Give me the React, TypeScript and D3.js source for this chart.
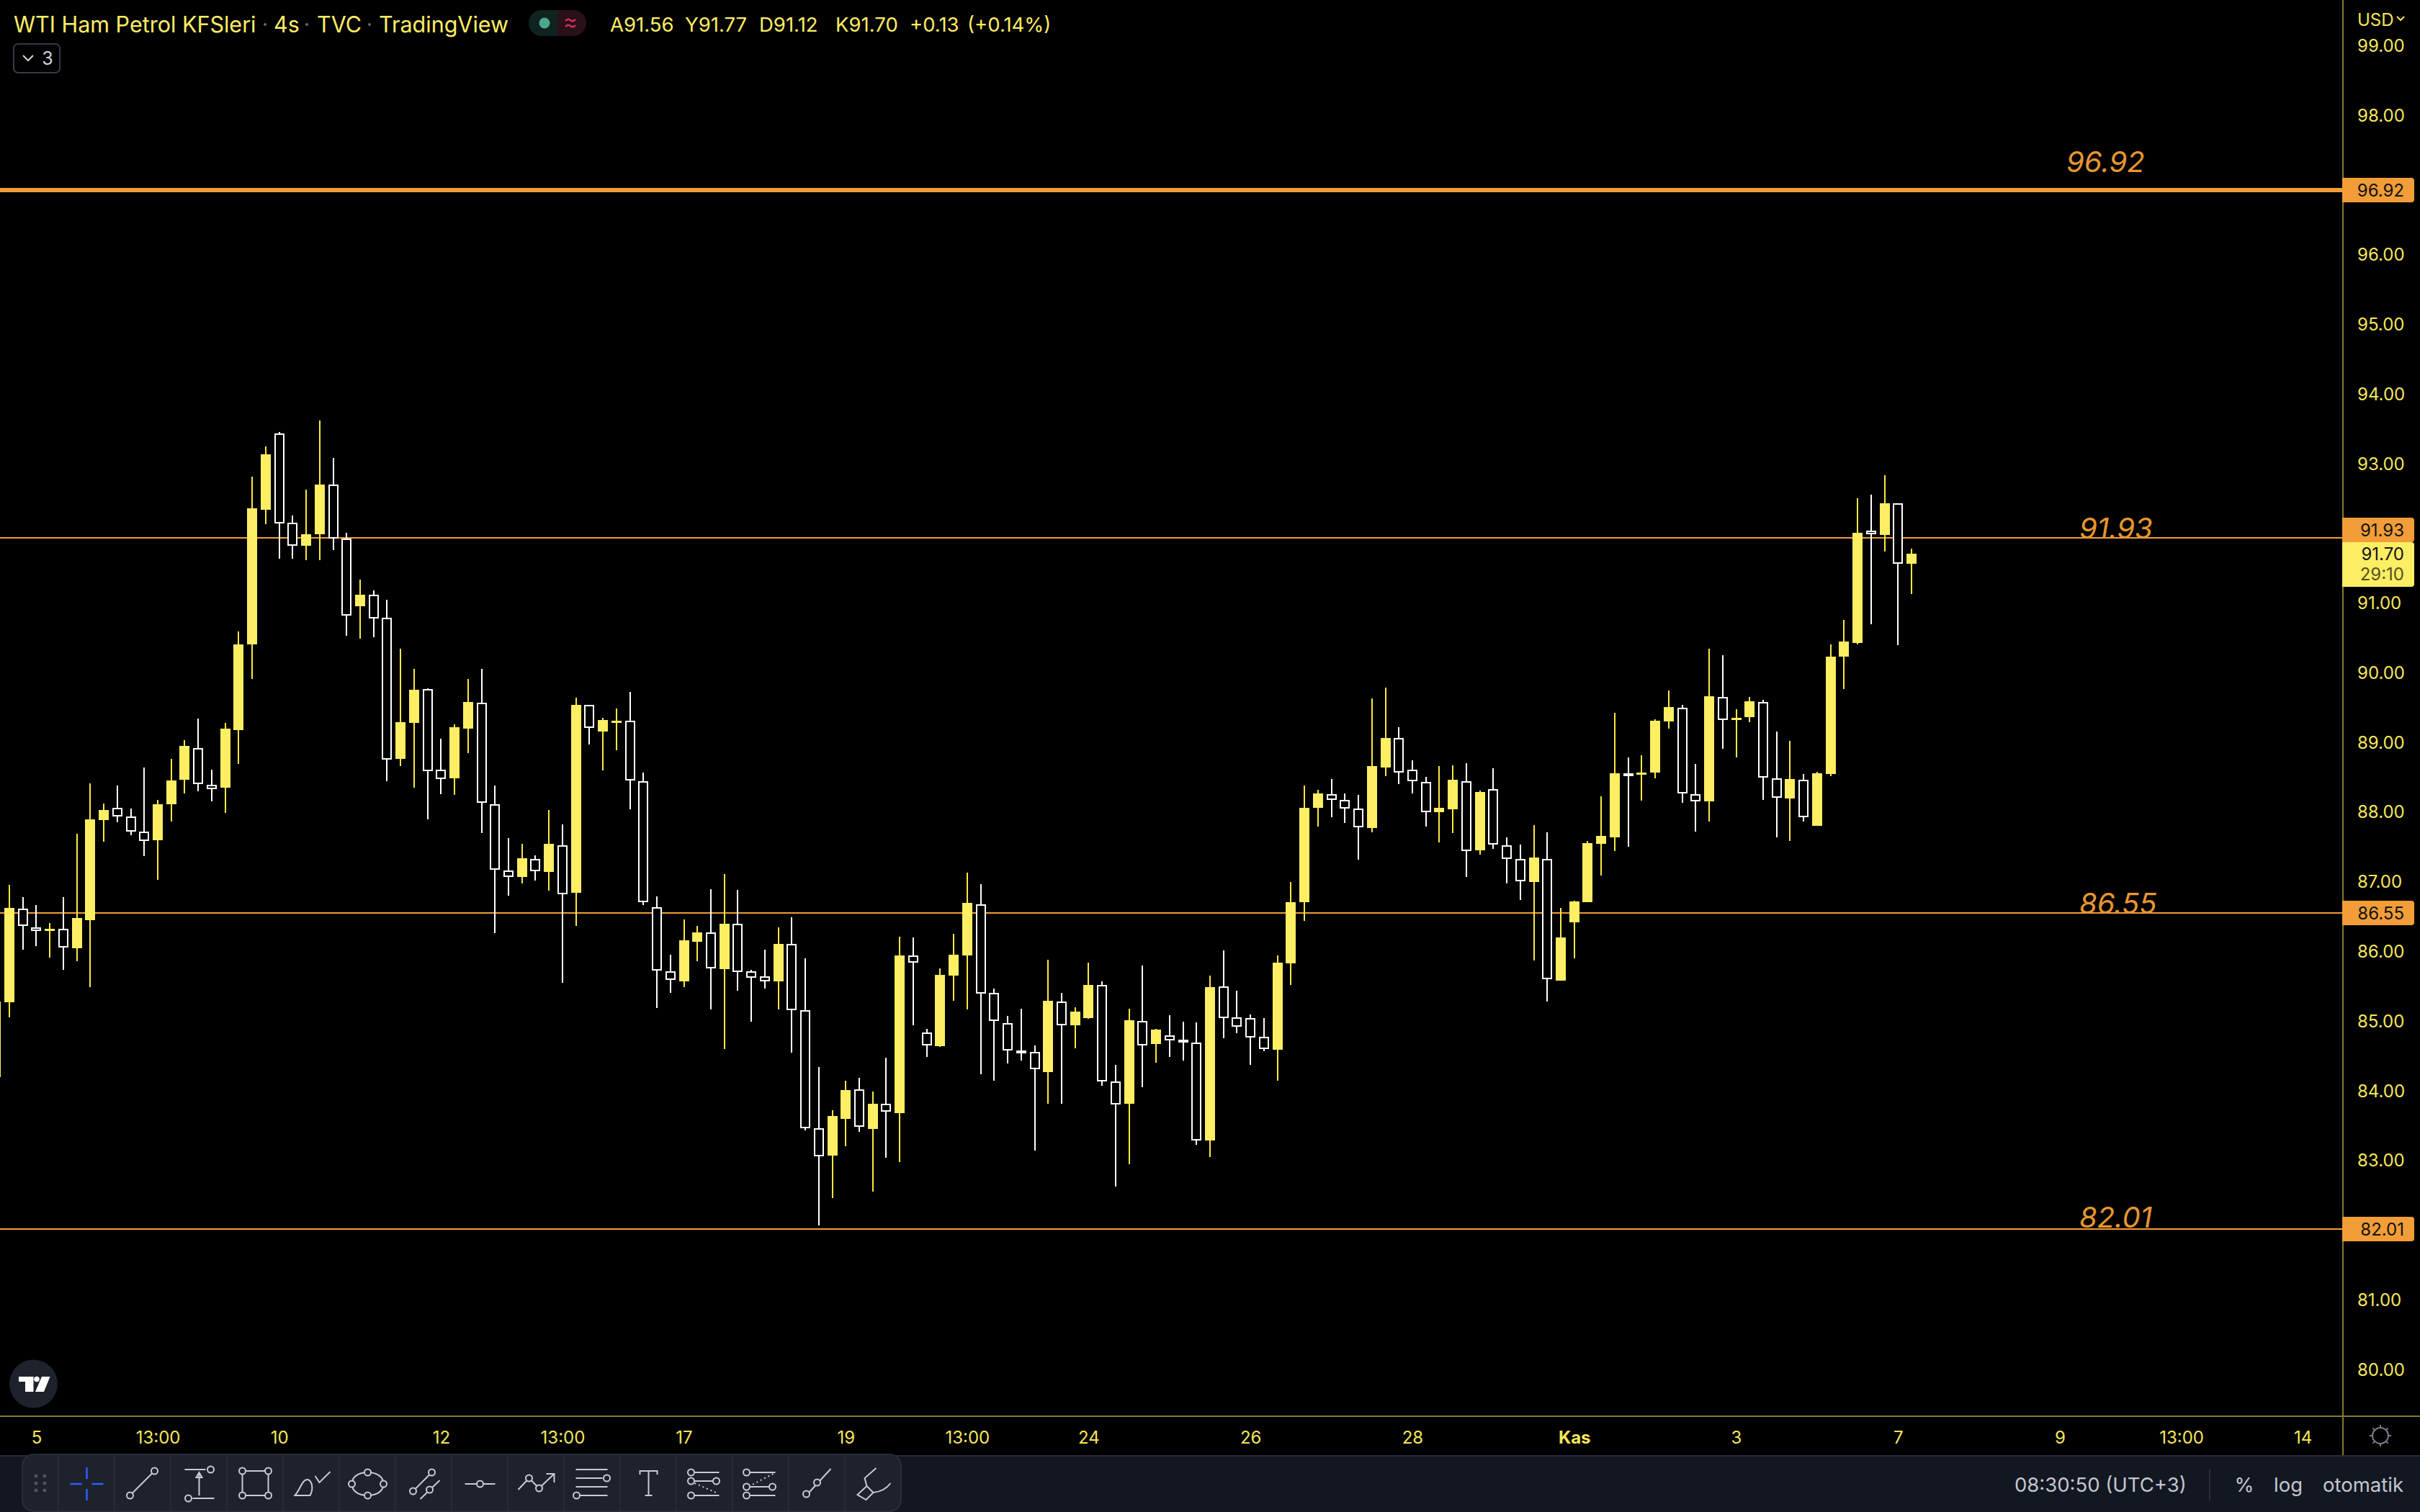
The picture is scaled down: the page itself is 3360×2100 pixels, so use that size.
import React, { useEffect, useRef } from 'react';
import * as d3 from 'd3';

const WIDTH = 3360;
const HEIGHT = 2100;
const AXIS_X = 3253;
const AXIS_Y = 1967;

// candles, oldest first (the first one is cut by the left edge)
const opens = [
  84.19, 85.27, 86.61, 86.34, 86.30, 86.32, 86.04, 86.44, 87.88, 88.05,
  87.93, 87.71, 87.59, 88.11, 88.45, 88.91, 88.39, 88.34, 89.17, 90.40,
  92.33, 93.43, 92.15, 91.81, 91.98, 92.69, 91.92, 90.94, 91.11, 90.78,
  88.75, 89.27, 89.76, 88.60, 88.48, 89.19, 89.56, 88.11, 87.16, 87.06,
  87.32, 87.14, 87.52, 86.83, 89.53, 89.15, 89.29, 89.31, 88.44, 86.63,
  85.71, 85.56, 86.14, 86.27, 85.74, 86.39, 85.71, 85.64, 85.56, 86.10,
  85.15, 83.46, 83.06, 83.59, 84.01, 83.45, 83.81, 83.68, 85.94, 84.83,
  84.64, 85.65, 85.94, 86.67, 85.40, 84.97, 84.57, 84.55, 84.27, 85.28,
  84.93, 85.03, 85.51, 84.13, 83.81, 85.00, 84.66, 84.79, 84.73, 84.69,
  83.28, 85.49, 85.05, 85.04, 84.77, 84.58, 85.82, 86.70, 88.05, 88.25,
  88.17, 88.04, 87.76, 88.64, 89.06, 88.60, 88.43, 87.99, 88.04, 88.44,
  87.44, 88.32, 87.52, 87.32, 86.99, 87.32, 85.57, 86.41, 86.70, 87.54,
  87.63, 88.55, 88.53, 88.56, 89.29, 89.49, 88.25, 88.15, 89.65, 89.33,
  89.35, 89.57, 88.48, 88.19, 88.46, 87.80, 88.54, 90.22, 90.42, 92.03,
  91.98, 92.43, 91.56,
];
const highs = [
  85.27, 86.95, 86.77, 86.66, 86.40, 86.77, 87.68, 88.41, 88.12, 88.38,
  88.04, 88.63, 88.17, 88.76, 89.03, 89.34, 88.60, 89.27, 90.59, 92.81,
  93.24, 93.45, 92.25, 92.62, 93.61, 93.08, 92.00, 91.33, 91.17, 91.04,
  90.34, 90.05, 89.77, 89.05, 89.25, 89.90, 90.05, 88.38, 87.62, 87.54,
  87.37, 88.02, 87.82, 89.64, 89.53, 89.35, 89.48, 89.72, 88.56, 86.78,
  85.95, 86.45, 86.36, 86.89, 87.10, 86.88, 85.73, 86.02, 86.34, 86.48,
  85.89, 84.33, 83.72, 84.14, 84.18, 83.98, 84.47, 86.20, 86.19, 84.88,
  85.75, 86.25, 87.12, 86.96, 85.46, 85.07, 85.17, 84.64, 85.87, 85.40,
  85.19, 85.83, 85.56, 84.37, 85.17, 85.79, 84.88, 85.08, 84.99, 84.98,
  85.65, 86.01, 85.43, 85.09, 85.04, 85.94, 86.99, 88.37, 88.31, 88.47,
  88.26, 88.24, 89.63, 89.78, 89.21, 88.74, 88.50, 88.65, 88.66, 88.70,
  88.30, 88.62, 87.63, 87.53, 87.81, 87.70, 86.62, 86.72, 87.58, 88.22,
  89.42, 88.78, 88.81, 89.33, 89.74, 89.53, 88.68, 90.34, 90.24, 89.47,
  89.65, 89.60, 89.15, 89.02, 88.54, 88.57, 90.40, 90.75, 92.50, 92.55,
  92.83, 92.43, 91.77,
];
const lows = [
  84.19, 85.05, 86.02, 86.07, 85.91, 85.73, 85.85, 85.48, 87.57, 87.85,
  87.66, 87.36, 87.02, 87.86, 88.26, 88.29, 88.15, 87.98, 88.69, 89.90,
  92.13, 91.63, 91.63, 91.61, 91.61, 91.75, 90.52, 90.48, 90.50, 88.44,
  88.65, 88.34, 87.89, 88.25, 88.24, 88.84, 87.69, 86.26, 86.79, 86.97,
  87.01, 86.87, 85.54, 86.36, 88.96, 88.59, 88.88, 88.03, 86.66, 85.18,
  85.40, 85.48, 85.85, 85.16, 84.59, 85.43, 84.99, 85.46, 85.16, 84.54,
  83.43, 82.06, 82.45, 83.20, 83.41, 82.55, 83.03, 82.97, 84.93, 84.48,
  84.62, 85.29, 85.16, 84.23, 84.14, 84.39, 84.43, 83.14, 83.81, 83.81,
  84.60, 85.03, 84.07, 82.62, 82.94, 84.05, 84.40, 84.48, 84.43, 83.22,
  83.04, 84.75, 84.82, 84.37, 84.56, 84.14, 85.51, 86.43, 87.79, 87.92,
  87.84, 87.31, 87.70, 88.51, 88.40, 88.26, 87.79, 87.56, 87.69, 87.06,
  87.38, 87.47, 86.97, 86.73, 85.86, 85.28, 85.57, 85.89, 86.70, 87.08,
  87.43, 87.50, 88.16, 88.48, 89.19, 88.13, 87.71, 87.86, 88.90, 88.78,
  89.28, 88.17, 87.63, 87.58, 87.86, 87.80, 88.51, 89.76, 90.40, 90.69,
  91.73, 90.39, 91.12,
];
const closes = [
  85.27, 86.62, 86.36, 86.29, 86.32, 86.05, 86.47, 87.89, 88.02, 87.93,
  87.71, 87.58, 88.11, 88.45, 88.94, 88.39, 88.33, 89.19, 90.40, 92.35,
  93.13, 92.14, 91.82, 91.98, 92.69, 91.91, 90.81, 91.11, 90.77, 88.74,
  89.28, 89.75, 88.58, 88.47, 89.21, 89.57, 88.12, 87.17, 87.07, 87.33,
  87.14, 87.54, 86.82, 89.53, 89.20, 89.32, 89.31, 88.45, 86.70, 85.72,
  85.59, 86.15, 86.27, 85.75, 86.39, 85.70, 85.62, 85.57, 86.10, 85.15,
  83.46, 83.06, 83.63, 84.00, 83.47, 83.81, 83.70, 85.94, 85.84, 84.64,
  85.66, 85.95, 86.69, 85.39, 85.00, 84.58, 84.55, 84.30, 85.29, 84.94,
  85.13, 85.51, 84.13, 83.80, 85.01, 84.65, 84.87, 84.72, 84.69, 83.28,
  85.48, 85.04, 84.92, 84.76, 84.59, 85.83, 86.70, 88.05, 88.26, 88.17,
  88.05, 87.77, 88.65, 89.06, 88.56, 88.43, 88.00, 88.05, 88.46, 87.44,
  88.28, 87.52, 87.32, 87.00, 87.34, 85.59, 86.19, 86.71, 87.55, 87.65,
  88.55, 88.53, 88.56, 89.30, 89.50, 88.26, 88.15, 89.66, 89.32, 89.35,
  89.58, 88.48, 88.20, 88.47, 87.92, 88.55, 90.22, 90.44, 92.00, 91.98,
  92.43, 91.56, 91.70,
];

// 97, 92 and 82 sit under the price tags, the reference does not show them
const priceTicks = [80, 81, 83, 84, 85, 86, 87, 88, 89, 90, 91, 93, 94, 95, 96, 98, 99];
const levels = [96.92, 91.93, 86.55, 82.01];
const lastPrice = 91.70;

// time axis: bar number -> label
const timeTickBars = [3, 12, 21, 33, 42, 51, 63, 72, 81, 93, 105, 117, 129, 141, 153, 162, 171];
const timeTickLabels = ['5', '13:00', '10', '12', '13:00', '17', '19', '13:00', '24', '26', '28', 'Kas', '3', '7', '9', '13:00', '14'];

const titleParts: [string, number][] = [['WTI Ham Petrol KFSleri', 19], ['4s', 380], ['TVC', 440], ['TradingView', 526]];
const ohlcParts: [string, number][] = [['A91.56', 847], ['Y91.77', 951], ['D91.12', 1054], ['K91.70', 1160], ['+0.13', 1263], ['(+0.14%)', 1343]];

// drawing tool icons, local coordinates around each toolbar cell
const toolIcons: { d: string; dots?: [number, number][]; dash?: string }[] = [
  { d: '' },
  { d: 'M-18 17L16 -17', dots: [[16, -17], [-18, 17]] },
  { d: 'M-20 -19H9M-9 21H21M0 17V-13M-4 -8L0 -15L4 -8Z', dots: [[16, -19], [-15, 21]] },
  { d: 'M-18 -17H18V17H-18Z', dots: [[-18, -17], [18, -17], [-18, 17], [18, 17]] },
  { d: 'M-23 17H-2C3 8 1 -3 -5 -5C-13 -6 -15 8 -23 17ZM5 -10L11 -1L26 -16' },
  { d: 'M0 -15C14 -15 22 -8 22 1C22 10 14 17 0 17C-14 17 -22 10 -22 1C-22 -8 -14 -15 0 -15Z', dots: [[0, -15], [22, 1], [0, 17], [-22, 1]] },
  { d: 'M-15 11L11 -15M-5 22L22 -4', dots: [[11, -15], [-15, 11], [8, 9]] },
  { d: 'M-21 1H21', dots: [[0, 1]] },
  { d: 'M-25 9L-10 -7L4 7L25 -13M14 -13H25V-1', dots: [[-10, -7], [4, 7]] },
  { d: 'M-23 -19H21M-23 -7H14M-23 5H21M-18 17H21', dots: [[20, -7], [-22, 17]] },
  { d: 'M-12 -12V-17H12V-12M0 -17V17M-5 17H5' },
  { d: 'M-18 -15H20M-18 -3H16M-18 17H20', dots: [[-19, -15], [-19, -3], [16, -3], [-19, 17]] },
  { d: 'M-19 -15H20M-19 5H16M-19 17H20', dots: [[-20, -15], [-20, 5], [16, 5], [-20, 17]] },
  { d: 'M19 -20L-15 17', dots: [[0, -1], [-15, 15]] },
  { d: 'M4 -21L-12 -7L-9 4L-22 16L-10 23L0 13L-9 4M0 13C10 12 18 8 24 0' },
];
// dotted diagonals of the two fib tools
const toolDots: [number, string][] = [[11, 'M-14 0L18 14'], [12, 'M17 -13L-12 2']];

const YELLOW = '#fdee63';
const WICK = '#fbe93e';
const AXIS_TEXT = '#f5e75a';
const ORANGE = '#f29d38';
const BORDER = '#857a32';
const FONT = 'Inter, Roboto, sans-serif';

const App: React.FC = () => {
  const svgRef = useRef<SVGSVGElement>(null);

  useEffect(() => {
    if (!svgRef.current) return;
    document.body.style.margin = '0';
    document.body.style.background = '#000';

    d3.select(svgRef.current).selectAll('*').remove();
    const svg = d3.select(svgRef.current);

    const x = d3.scaleLinear().domain([1, opens.length - 1]).range([13, 2654]);
    const y = d3.scaleLinear().domain([96.92, 82.01]).range([264, 1707]);

    svg.append('rect').attr('width', WIDTH).attr('height', HEIGHT).attr('fill', '#000');

    // level lines sit under the candles
    svg.selectAll('.level')
      .data(levels)
      .enter()
      .append('rect')
      .attr('class', 'level')
      .attr('x', 0)
      .attr('width', AXIS_X)
      .attr('y', d => Math.round(y(d)) - (d === 96.92 ? 3 : 1))
      .attr('height', d => (d === 96.92 ? 6 : 2))
      .attr('fill', ORANGE);

    // candles
    const bars = d3.range(opens.length);
    const candles = svg.append('g').attr('shape-rendering', 'crispEdges');
    candles.selectAll('.wick')
      .data(bars)
      .enter()
      .append('rect')
      .attr('class', 'wick')
      .attr('x', i => Math.round(x(i)) - 1)
      .attr('width', 2)
      .attr('y', i => y(highs[i]))
      .attr('height', i => y(lows[i]) - y(highs[i]))
      .attr('fill', i => (closes[i] >= opens[i] ? WICK : '#fff'));

    candles.selectAll('.body')
      .data(bars)
      .enter()
      .append('rect')
      .attr('class', 'body')
      .attr('x', i => Math.round(x(i)) - (closes[i] >= opens[i] ? 7 : 6))
      .attr('width', i => (closes[i] >= opens[i] ? 14 : 12))
      .attr('y', i => Math.round(y(Math.max(opens[i], closes[i]))) + (closes[i] >= opens[i] ? 0 : 1))
      .attr('height', i => Math.max(closes[i] >= opens[i] ? 3 : 2, Math.round(Math.abs(y(opens[i]) - y(closes[i]))) - (closes[i] >= opens[i] ? 0 : 2)))
      .attr('fill', i => (closes[i] >= opens[i] ? YELLOW : '#000'))
      .attr('stroke', i => (closes[i] >= opens[i] ? 'none' : '#fff'))
      .attr('stroke-width', 2);

    // italic labels over the levels
    const levelLabelX = [2869, 2887, 2887, 2887];
    const levelLabelY = [228, 737, 1258, 1694];
    svg.selectAll('.level-label')
      .data(levels)
      .enter()
      .append('text')
      .attr('class', 'level-label')
      .attr('x', (_d, i) => levelLabelX[i])
      .attr('y', (_d, i) => levelLabelY[i])
      .attr('dominant-baseline', 'middle')
      .style('font-family', FONT)
      .style('font-size', '40px')
      .style('font-style', 'italic')
      .style('fill', '#e8962f')
      .text(d => d3.format('.2f')(d));

    // price axis
    const yAxis = d3.axisRight(y)
      .tickValues(priceTicks)
      .tickFormat(d => d3.format('.2f')(d as number))
      .tickSize(0)
      .tickPadding(20);
    const yG = svg.append('g').attr('transform', `translate(${AXIS_X},1)`).call(yAxis);
    yG.select('.domain').remove();
    yG.selectAll('text')
      .style('font-family', FONT)
      .style('font-size', '24px')
      .style('fill', AXIS_TEXT);

    svg.append('rect').attr('x', AXIS_X - 1).attr('y', 0).attr('width', 2).attr('height', 2022).attr('fill', BORDER);
    svg.append('rect').attr('x', 0).attr('y', AXIS_Y - 1).attr('width', WIDTH).attr('height', 2).attr('fill', BORDER);

    // price tags
    const tagTops = [247, 719, Math.round(y(86.55)) - 17, Math.round(y(82.01)) - 17];
    const tagPath = (top: number, h: number) =>
      `M${AXIS_X - 1} ${top}H3348a4 4 0 0 1 4 4V${top + h - 4}a4 4 0 0 1 -4 4H${AXIS_X - 1}Z`;
    levels.forEach((lv, i) => {
      svg.append('path').attr('d', tagPath(tagTops[i], 34)).attr('fill', ORANGE);
      svg.append('text')
        .attr('x', 3338).attr('y', tagTops[i] + 17)
        .attr('text-anchor', 'end').attr('dominant-baseline', 'central')
        .style('font-family', FONT).style('font-size', '24px').style('fill', '#131313')
        .text(d3.format('.2f')(lv));
    });
    svg.append('path').attr('d', tagPath(753, 62)).attr('fill', YELLOW);
    svg.append('text')
      .attr('x', 3338).attr('y', 769)
      .attr('text-anchor', 'end').attr('dominant-baseline', 'central')
      .style('font-family', FONT).style('font-size', '24px').style('fill', '#131313')
      .text(d3.format('.2f')(lastPrice));
    svg.append('text')
      .attr('x', 3338).attr('y', 797)
      .attr('text-anchor', 'end').attr('dominant-baseline', 'central')
      .style('font-family', FONT).style('font-size', '24px').style('fill', '#55501f')
      .text('29:10');

    // currency
    svg.append('text')
      .attr('x', 3273).attr('y', 27).attr('dominant-baseline', 'central')
      .style('font-family', FONT).style('font-size', '24px').style('fill', AXIS_TEXT)
      .text('USD');
    svg.append('path').attr('d', 'M3328 23L3333 28L3338 23').attr('fill', 'none').attr('stroke', AXIS_TEXT).attr('stroke-width', 2);

    // time axis
    const xAxis = d3.axisBottom(x)
      .tickValues(timeTickBars)
      .tickFormat((_d, i) => timeTickLabels[i])
      .tickSize(0)
      .tickPadding(0);
    const xG = svg.append('g').attr('transform', `translate(0,${AXIS_Y})`).call(xAxis);
    xG.select('.domain').remove();
    xG.selectAll('text')
      .attr('dy', 0)
      .attr('y', 29)
      .attr('dominant-baseline', 'central')
      .style('font-family', FONT)
      .style('font-size', '24px')
      .style('font-weight', (_d, i) => (timeTickLabels[i] === 'Kas' ? '700' : '400'))
      .style('fill', AXIS_TEXT);

    // settings gear
    const gear = svg.append('g').attr('transform', 'translate(3305,1994)').attr('fill', 'none').attr('stroke', '#787b86').attr('stroke-width', 2);
    gear.append('circle').attr('r', 11);
    d3.range(8).forEach(k => {
      const a = (k * Math.PI) / 4;
      gear.append('line')
        .attr('x1', 11 * Math.cos(a)).attr('y1', 11 * Math.sin(a))
        .attr('x2', 15 * Math.cos(a)).attr('y2', 15 * Math.sin(a));
    });

    // header
    const header = svg.append('g').style('font-family', FONT).style('fill', YELLOW);
    titleParts.forEach(([t, tx]) => {
      header.append('text').attr('x', tx).attr('y', 33).attr('dominant-baseline', 'central').style('font-size', '30.5px').text(t);
    });
    [368, 426, 513].forEach(dx => {
      svg.append('circle').attr('cx', dx).attr('cy', 34).attr('r', 2).attr('fill', '#6a6a5a');
    });
    ohlcParts.forEach(([t, tx]) => {
      header.append('text').attr('x', tx).attr('y', 34).attr('dominant-baseline', 'central').style('font-size', '27.5px').text(t);
    });

    // market status pill
    svg.append('path').attr('d', 'M774 14H752a18 18 0 0 0 0 36H774Z').attr('fill', '#0f2320');
    svg.append('path').attr('d', 'M774 14H796a18 18 0 0 1 0 36H774Z').attr('fill', '#2a1018');
    svg.append('circle').attr('cx', 756).attr('cy', 32).attr('r', 7.5).attr('fill', '#4aa88d');
    svg.append('path')
      .attr('d', 'M785 29q3.500 -4 7 -1t7 -1M785 37q3.500 -4 7 -1t7 -1')
      .attr('fill', 'none').attr('stroke', '#d9305f').attr('stroke-width', 2.5);

    // collapsed indicators button
    svg.append('rect').attr('x', 19).attr('y', 61).attr('width', 64).attr('height', 40).attr('rx', 6)
      .attr('fill', 'none').attr('stroke', '#363a45').attr('stroke-width', 2);
    svg.append('path').attr('d', 'M32 77L39 84L46 77').attr('fill', 'none').attr('stroke', '#d1d4dc').attr('stroke-width', 2);
    svg.append('text').attr('x', 66).attr('y', 81).attr('text-anchor', 'middle').attr('dominant-baseline', 'central')
      .style('font-family', FONT).style('font-size', '25px').style('fill', '#d1d4dc').text('3');

    // TradingView badge
    svg.append('circle').attr('cx', 46.5).attr('cy', 1922).attr('r', 33.500).attr('fill', '#1e222d');
    svg.append('path').attr('d', 'M26 1912H46.500V1933H35V1919H26Z').attr('fill', '#fff');
    svg.append('circle').attr('cx', 51).attr('cy', 1915.500).attr('r', 3.800).attr('fill', '#fff');
    svg.append('path').attr('d', 'M58 1912H69.500L61 1933H49Z').attr('fill', '#fff');

    // bottom status bar
    svg.append('rect').attr('x', 0).attr('y', 2021).attr('width', WIDTH).attr('height', 79).attr('fill', '#131722');
    svg.append('rect').attr('x', 0).attr('y', 2021).attr('width', WIDTH).attr('height', 2).attr('fill', '#2a2e39');
    const statusStyle = (sel: d3.Selection<SVGTextElement, unknown, null, undefined>) =>
      sel.attr('dominant-baseline', 'central')
        .style('font-family', FONT).style('font-size', '27.5px').style('fill', '#c3c6ce');
    statusStyle(svg.append('text').attr('x', 2797).attr('y', 2062).text('08:30:50 (UTC+3)'));
    svg.append('rect').attr('x', 3067).attr('y', 2040).attr('width', 2).attr('height', 44).attr('fill', '#2a2e39');
    statusStyle(svg.append('text').attr('x', 3116).attr('y', 2062).attr('text-anchor', 'middle').text('%'));
    statusStyle(svg.append('text').attr('x', 3177).attr('y', 2062).attr('text-anchor', 'middle').text('log'));
    statusStyle(svg.append('text').attr('x', 3281).attr('y', 2062).attr('text-anchor', 'middle').text('otomatik'));

    // drawing toolbar
    const TOOL_LEFT = 81;
    const TOOL_STEP = 78;
    svg.append('rect').attr('x', 31).attr('y', 2020).attr('width', 1220).attr('height', 79).attr('rx', 16)
      .attr('fill', '#1e222d').attr('stroke', '#2a2e39').attr('stroke-width', 2);
    d3.range(toolIcons.length).forEach(k => {
      svg.append('rect').attr('x', TOOL_LEFT + k * TOOL_STEP - 1).attr('y', 2022).attr('width', 1.5).attr('height', 76).attr('fill', '#2a2e39');
    });
    [50, 62].forEach(gx => {
      [2050, 2060, 2070].forEach(gy => {
        svg.append('circle').attr('cx', gx).attr('cy', gy).attr('r', 2.500).attr('fill', '#50535e');
      });
    });
    toolIcons.forEach((icon, k) => {
      const g = svg.append('g').attr('transform', `translate(${TOOL_LEFT + k * TOOL_STEP + 39.500},2060)`);
      if (k === 0) {
        g.append('path').attr('d', 'M0 -22V-6M0 8V24M-23 1H-7M7 1H23')
          .attr('fill', 'none').attr('stroke', '#2962ff').attr('stroke-width', 2.500);
        return;
      }
      g.append('path').attr('d', icon.d).attr('fill', 'none').attr('stroke', '#c8cbd3').attr('stroke-width', 2);
      toolDots.filter(t => t[0] === k).forEach(t => {
        g.append('path').attr('d', t[1]).attr('fill', 'none').attr('stroke', '#c8cbd3')
          .attr('stroke-width', 2).attr('stroke-dasharray', '2 4');
      });
      (icon.dots || []).forEach(([cx, cy]) => {
        g.append('circle').attr('cx', cx).attr('cy', cy).attr('r', 4.500)
          .attr('fill', '#1e222d').attr('stroke', '#c8cbd3').attr('stroke-width', 2);
      });
    });
  }, []);

  return (
    <svg
      ref={svgRef}
      width={WIDTH}
      height={HEIGHT}
      style={{ position: 'fixed', left: 0, top: 0, display: 'block' }}
    />
  );
};

export default App;
